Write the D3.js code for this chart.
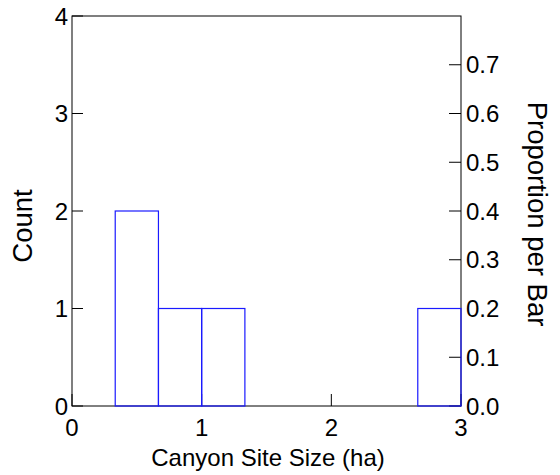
<!DOCTYPE html>
<html><head><meta charset="utf-8">
<script src="https://cdn.jsdelivr.net/npm/d3@7/dist/d3.min.js"></script>
<style>body{margin:0;background:#fff}svg{display:block}text{font-family:"Liberation Sans",Arial,sans-serif;fill:#000}</style>
</head><body>
<script>
const binEdges = [0, 1/3, 2/3, 1, 4/3, 5/3, 2, 7/3, 8/3, 3];
const binCounts = [0, 2, 1, 1, 0, 0, 0, 0, 1];
const xTicks = [0, 1, 2, 3];
const countTicks = [0, 1, 2, 3, 4];
const propTicks = [0.0, 0.1, 0.2, 0.3, 0.4, 0.5, 0.6, 0.7];
const total = d3.sum(binCounts);

const W = 560, H = 475;
const L = 72, R = 461, T = 16, B = 406;
const svg = d3.select("body").append("svg").attr("width", W).attr("height", H);
const x = d3.scaleLinear().domain([0, 3]).range([L, R]);
const y = d3.scaleLinear().domain([0, 4]).range([B, T]);
const yp = d3.scaleLinear().domain([0, 4 / total]).range([B, T]);
const fs = 24, fsT = 27.5;

// frame
svg.append("rect").attr("x", L).attr("y", T).attr("width", R - L).attr("height", B - T)
  .attr("fill", "none").attr("stroke", "#000").attr("stroke-width", 1);

// ticks (inward)
const ax = svg.append("g").attr("stroke", "#000").attr("stroke-width", 1);
ax.selectAll(".ly").data(countTicks).join("line")
  .attr("x1", L).attr("x2", L + 11).attr("y1", d => y(d)).attr("y2", d => y(d));
ax.selectAll(".ry").data(propTicks).join("line")
  .attr("x1", R).attr("x2", R - 12).attr("y1", d => yp(d)).attr("y2", d => yp(d));
ax.selectAll(".bx").data(xTicks).join("line")
  .attr("x1", d => x(d)).attr("x2", d => x(d)).attr("y1", B).attr("y2", B - 12);

// bars
const bins = binCounts.map((c, i) => ({x0: binEdges[i], x1: binEdges[i + 1], c}));
svg.append("g").selectAll("rect").data(bins).join("rect")
  .attr("x", d => x(d.x0)).attr("width", d => x(d.x1) - x(d.x0))
  .attr("y", d => y(d.c)).attr("height", d => Math.max(0, B - y(d.c)))
  .attr("fill", "none").attr("stroke", "#1a1aff").attr("stroke-width", 1.2);

// labels
svg.append("g").selectAll("text").data(countTicks).join("text")
  .attr("x", L - 4).attr("y", d => y(d)).attr("dy", "0.36em").attr("text-anchor", "end")
  .attr("font-size", fs).text(d => d);
svg.append("g").selectAll("text").data(propTicks).join("text")
  .attr("x", R + 5).attr("y", d => yp(d)).attr("dy", "0.36em").attr("text-anchor", "start")
  .attr("font-size", fs).text(d => d.toFixed(1));
svg.append("g").selectAll("text").data(xTicks).join("text")
  .attr("x", d => x(d)).attr("y", 436).attr("text-anchor", "middle")
  .attr("font-size", fs).text(d => d);

svg.append("text").attr("x", 268).attr("y", 466).attr("text-anchor", "middle")
  .attr("font-size", fs).text("Canyon Site Size (ha)");
svg.append("text").attr("transform", `translate(22,226) rotate(-90)`)
  .attr("text-anchor", "middle").attr("dy", "0.36em").attr("font-size", fsT).text("Count");
svg.append("text").attr("transform", `translate(538,214) rotate(90)`)
  .attr("text-anchor", "middle").attr("dy", "0.36em").attr("font-size", fsT).text("Proportion per Bar");
</script>
</body></html>
